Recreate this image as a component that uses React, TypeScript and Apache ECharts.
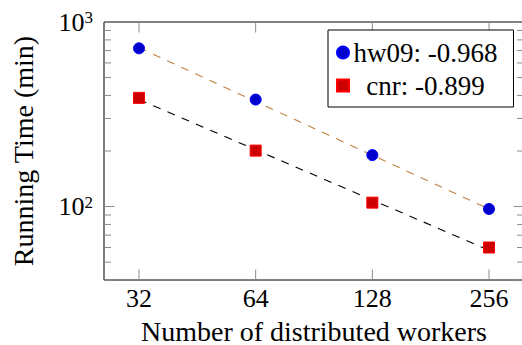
import { useEffect, useRef } from 'react';
import * as echarts from 'echarts';

// ---- data ----
const workers = [32, 64, 128, 256];
const xTickLabels = ['32', '64', '128', '256'];
const hw09Time = [720, 380, 190, 97];
const cnrTime = [388, 201, 105, 60];
// fitted (dashed) lines, values at 32 and 256 workers
const fitWorkers = [32, 256];
const hw09Fit = [725, 97];
const cnrFit = [380, 58];
const hw09Label = 'hw09: -0.968';
const cnrLabel = 'cnr: -0.899';
const yMajorTicks = [100, 1000];
const yMajorExponents = [2, 3];
const yMinorTicks = [40, 50, 60, 70, 80, 90, 200, 300, 400, 500, 600, 700, 800, 900];

const FONT = "'Liberation Serif', 'Times New Roman', serif";
const TICK_COLOR = '#8a8a8a';

export default function App() {
  const ref = useRef<HTMLDivElement>(null);

  useEffect(() => {
    document.body.style.margin = '0';
    const chart = echarts.init(ref.current!, null, { renderer: 'svg' });

    const xMin = workers[0] / Math.pow(2, 0.3);
    const xMax = workers[workers.length - 1] * Math.pow(2, 0.3);

    const yTickData = [
      ...yMajorTicks.map((v) => [workers[0], v, 10.5]),
      ...yMinorTicks.map((v) => [workers[0], v, 7]),
    ];
    const xTickData = workers.map((w) => [w, 100, 10.5]);

    const option: any = {
      animation: false,
      textStyle: { fontFamily: FONT },
      grid: {
        left: 104,
        top: 22,
        right: -2,
        bottom: 65,
        containLabel: false,
        outerBoundsMode: 'none',
        show: true,
        borderColor: '#000',
        borderWidth: 1,
        backgroundColor: 'transparent',
      },
      xAxis: {
        type: 'log',
        logBase: 2,
        min: xMin,
        max: xMax,
        name: 'Number of distributed workers',
        nameLocation: 'middle',
        nameGap: 37,
        nameTextStyle: { fontFamily: FONT, fontSize: 28, color: '#000' },
        axisLine: { show: false },
        axisTick: { show: false },
        splitLine: { show: false },
        axisLabel: {
          margin: 5,
          fontFamily: FONT,
          fontSize: 26,
          color: '#000',
          showMinLabel: false,
          showMaxLabel: false,
          formatter: (v: number) => {
            const i = workers.findIndex((w) => Math.abs(w - v) < 1e-6);
            return i >= 0 ? xTickLabels[i] : '';
          },
        },
      },
      yAxis: {
        type: 'log',
        logBase: 10,
        min: 40,
        max: 1000,
        name: 'Running Time (min)',
        nameLocation: 'middle',
        nameGap: 67,
        nameTextStyle: { fontFamily: FONT, fontSize: 28, color: '#000' },
        axisLine: { show: false },
        axisTick: { show: false },
        splitLine: { show: false },
        axisLabel: {
          margin: 11,
          showMinLabel: false,
          showMaxLabel: true,
          fontFamily: FONT,
          formatter: (v: number) => {
            const i = yMajorTicks.findIndex((t) => Math.abs(t - v) / t < 1e-6);
            return i >= 0 ? `{b|10}{s|${yMajorExponents[i]}}` : '';
          },
          rich: {
            b: {
              fontFamily: FONT,
              fontSize: 26,
              color: '#000',
              lineHeight: 26,
              padding: [4, 0, 0, 0],
              verticalAlign: 'bottom',
            },
            s: {
              fontFamily: FONT,
              fontSize: 17,
              color: '#000',
              lineHeight: 17,
              verticalAlign: 'top',
            },
          },
        },
      },
      legend: {
        orient: 'vertical',
        left: 328,
        top: 30,
        padding: [9, 16, 8, 8],
        itemGap: 6,
        itemWidth: 12,
        itemHeight: 12,
        borderColor: '#000',
        borderWidth: 1,
        borderRadius: 0,
        backgroundColor: '#fff',
        data: [hw09Label, cnrLabel],
        formatter: (name: string) => `{c|${name}}`,
        textStyle: {
          fontFamily: FONT,
          fontSize: 27,
          color: '#000',
          rich: {
            c: {
              fontFamily: FONT,
              fontSize: 27,
              lineHeight: 27,
              color: '#000',
              width: 143,
              align: 'center',
            },
          },
        },
      },
      series: [
        {
          name: 'hw09 fit',
          type: 'line',
          z: 2,
          symbol: 'none',
          data: fitWorkers.map((w, i) => [w, hw09Fit[i]]),
          lineStyle: { color: '#bf8040', width: 1.1, type: [8, 7.5] },
        },
        {
          name: 'cnr fit',
          type: 'line',
          z: 2,
          symbol: 'none',
          data: fitWorkers.map((w, i) => [w, cnrFit[i]]),
          lineStyle: { color: '#000', width: 1.1, type: [8, 7.5] },
        },
        {
          name: hw09Label,
          type: 'scatter',
          z: 4,
          symbol: 'circle',
          symbolSize: 11,
          data: workers.map((w, i) => [w, hw09Time[i]]),
          itemStyle: { color: '#0000cc', borderColor: '#0000ff', borderWidth: 1, opacity: 1 },
        },
        {
          name: cnrLabel,
          type: 'scatter',
          z: 4,
          symbol: 'rect',
          symbolSize: 11,
          data: workers.map((w, i) => [w, cnrTime[i]]),
          itemStyle: { color: '#cc0000', borderColor: '#ff0000', borderWidth: 1, opacity: 1 },
        },
        {
          name: 'y ticks',
          type: 'custom',
          z: 3,
          silent: true,
          data: yTickData,
          renderItem: (params: any, api: any) => {
            const cs = params.coordSys;
            const y = api.coord([api.value(0), api.value(1)])[1];
            const len = api.value(2);
            const style = { stroke: TICK_COLOR, lineWidth: 1 };
            return {
              type: 'group',
              children: [
                { type: 'line', shape: { x1: cs.x, y1: y, x2: cs.x + len, y2: y }, style },
                { type: 'line', shape: { x1: cs.x + cs.width - len, y1: y, x2: cs.x + cs.width, y2: y }, style },
              ],
            };
          },
        },
        {
          name: 'x ticks',
          type: 'custom',
          z: 3,
          silent: true,
          data: xTickData,
          renderItem: (params: any, api: any) => {
            const cs = params.coordSys;
            const x = api.coord([api.value(0), api.value(1)])[0];
            const len = api.value(2);
            const style = { stroke: TICK_COLOR, lineWidth: 1 };
            return {
              type: 'group',
              children: [
                { type: 'line', shape: { x1: x, y1: cs.y + cs.height, x2: x, y2: cs.y + cs.height - len }, style },
                { type: 'line', shape: { x1: x, y1: cs.y, x2: x, y2: cs.y + len }, style },
              ],
            };
          },
        },
      ],
    };

    chart.setOption(option);
    return () => chart.dispose();
  }, []);

  return <div ref={ref} style={{ width: 522, height: 345 }} />;
}
